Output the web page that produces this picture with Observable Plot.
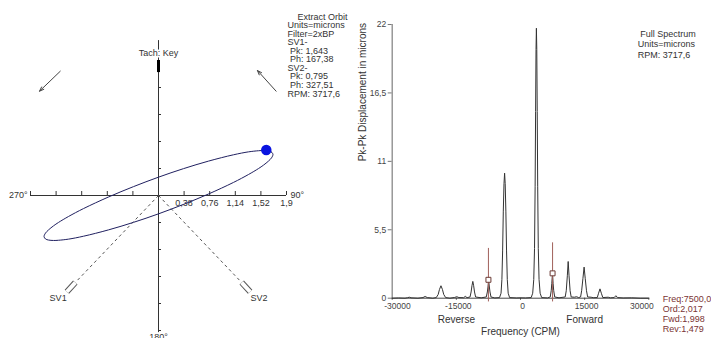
<!DOCTYPE html>
<html>
<head>
<meta charset="utf-8">
<script src="https://cdn.jsdelivr.net/npm/d3@7"></script>
<script src="https://cdn.jsdelivr.net/npm/@observablehq/plot@0.6"></script>
<style>
  html, body { margin: 0; padding: 0; background: #fff; overflow: hidden; }
  #wrap { position: relative; width: 711px; height: 338px; overflow: hidden; }
  #left, #right { position: absolute; top: 0; }
  #left { left: 0; }
  #right { left: 340px; }
</style>
</head>
<body>
<div id="wrap"><div id="left"></div><div id="right"></div></div>
<script>
// ---------- Orbit panel data (microns) ----------
const orbitX = [1.699, 1.677, 1.632, 1.558, 1.484, 1.335, 1.113, 0.742, 0.371, 0, -0.371, -0.742, -1.113, -1.335, -1.484, -1.558, -1.632, -1.677,
                -1.699, -1.677, -1.632, -1.558, -1.484, -1.335, -1.113, -0.742, -0.371, 0, 0.371, 0.742, 1.113, 1.335, 1.484, 1.558, 1.632, 1.677];
const orbitY = [0.578, 0.612, 0.627, 0.633, 0.630, 0.614, 0.573, 0.484, 0.378, 0.258, 0.125, -0.021, -0.184, -0.295, -0.379, -0.427, -0.484, -0.529,
                -0.578, -0.612, -0.627, -0.633, -0.630, -0.614, -0.573, -0.484, -0.378, -0.258, -0.125, 0.021, 0.184, 0.295, 0.379, 0.427, 0.484, 0.529];
const keyphasorDot = [{x: 1.60, y: 0.64}];
const orbitTicks = [-1.9, -1.52, -1.14, -0.76, -0.38, 0.38, 0.76, 1.14, 1.52, 1.9];
const orbitTickLabels = [0.38, 0.76, 1.14, 1.52, 1.9];
const vTicks = [-1.9, -1.52, -1.14, -0.76, -0.38, 0, 0.38, 0.76, 1.14, 1.52];
const probeNames = ["SV1", "SV2"];
const probeDirX = [-1, 1];
const orbitInfo = ["\u00a0\u00a0\u00a0\u00a0Extract Orbit", "Units=microns", "Filter=2xBP", "SV1-", "\u00a0Pk: 1,643", "\u00a0Ph: 167,38",
                   "SV2-", "\u00a0Pk: 0,795", "\u00a0Ph: 327,51", "RPM: 3717,6"];
const rotArrows = [
  {x1: -1.458, y1: 1.749, x2: -1.766, y2: 1.468},
  {x1: 1.746, y1: 1.468, x2: 1.469, y2: 1.759}
];

// ---------- Spectrum panel data ----------
const specFreq = [-30000, -28500, -27000, -26400, -26000, -25600, -24000, -22800, -22300, -21800, -20500,
  -19700, -19250, -18950, -18600, -18250, -17950, -17500, -16500, -15400, -14900, -14400, -13300, -12900, -12500,
  -11800, -11550, -11350, -11150, -10950, -10750, -10500, -9200,
  -8000, -7750, -7600, -7450, -7280, -7130, -6900, -6000,
  -4900, -4550, -4350, -4180, -4020, -3860, -3718, -3580, -3420, -3260, -3090, -2880, -2550, -1000, 0, 1200,
  2500, 2850, 3100, 3280, 3420, 3530, 3630, 3718, 3810, 3910, 4020, 4160, 4340, 4590, 4950, 6300,
  6950, 7180, 7320, 7480, 7620, 7770, 8000, 9000,
  10450, 10700, 10950, 11150, 11350, 11600, 11850, 12600, 13100, 13600,
  14050, 14300, 14600, 14870, 15130, 15430, 15700, 16500, 17000,
  17950, 18250, 18588, 18900, 19250, 20500, 21000, 21900, 22300, 22700, 24000, 26000, 28000, 30000];
const specAmp = [0, 0.02, 0, 0.04, 0.08, 0.03, 0, 0.05, 0.14, 0.05, 0,
  0.05, 0.3, 0.7, 1.0, 0.7, 0.3, 0.05, 0, 0.06, 0.12, 0.05, 0.04, 0.15, 0.04,
  0.1, 0.5, 1.0, 1.35, 1.0, 0.5, 0.1, 0.03,
  0.1, 0.5, 0.9, 1.45, 0.9, 0.5, 0.1, 0.02,
  0.05, 0.4, 1.5, 3.8, 7.0, 9.2, 10.05, 9.2, 7.0, 3.8, 1.5, 0.4, 0.05, 0.02, 0.03, 0.02,
  0.05, 0.4, 1.5, 4.0, 9.0, 15.0, 20.0, 21.7, 20.0, 15.0, 9.0, 4.0, 1.5, 0.4, 0.05, 0.02,
  0.1, 0.6, 1.2, 2.0, 1.2, 0.6, 0.1, 0.03,
  0.1, 0.6, 1.8, 2.95, 1.8, 0.6, 0.1, 0.08, 0.12, 0.05,
  0.1, 0.6, 1.6, 2.5, 1.6, 0.6, 0.1, 0.08, 0.04,
  0.05, 0.4, 0.75, 0.4, 0.05, 0.08, 0.03, 0.05, 0.2, 0.05, 0.02, 0.03, 0, 0];
const xTicks = [-30000, -15000, 0, 15000, 30000];
const yTicks = [0, 5.5, 11, 16.5, 22];
const cursorFreq = [-7500, 7500];
const cursorAmp = [1.479, 1.998];
const cursorTop = [4.0, 4.45];
const spectrumInfo = ["\u00a0Full Spectrum", "Units=microns", "RPM: 3717,6"];
const cursorInfo = ["Freq:7500,0", "Ord:2,017", "Fwd:1,998", "Rev:1,479"];

const FONT = "'Liberation Sans', Arial, sans-serif";
const comma = d => String(d).replace(".", ",");

// ---------- Orbit plot ----------
const orbit = orbitX.map((x, i) => ({x, y: orbitY[i]}));
const probes = probeNames.map((name, i) => ({name, s: probeDirX[i]}));

const left = Plot.plot({
  width: 350, height: 338,
  marginLeft: 30, marginRight: 64, marginTop: 60, marginBottom: 8,
  x: {domain: [-1.9, 1.9], axis: null},
  y: {domain: [-1.9, 1.9], axis: null},
  style: {fontFamily: FONT, fontSize: "9px", color: "#333", background: "transparent", overflow: "visible"},
  marks: [
    // axes
    Plot.ruleY([0], {x1: -1.9, x2: 1.9, stroke: "#333", strokeWidth: 1}),
    Plot.ruleX([0], {y1: -1.93, y2: 2.18, stroke: "#333", strokeWidth: 1}),
    Plot.ruleX(orbitTicks, {x: d => d, y1: 0, y2: 0, insetTop: -4, stroke: "#333"}),
    Plot.ruleY(vTicks, {y: d => d, x1: 0, x2: 0, insetRight: -3, stroke: "#333"}),
    Plot.text(orbitTickLabels, {x: d => d, y: 0, dy: 8, text: comma, fill: "#333", fontSize: 9}),
    Plot.text(["270°"], {x: -1.9, y: 0, dx: -3, textAnchor: "end", fill: "#333", fontSize: 9}),
    Plot.text(["90°"], {x: 1.9, y: 0, dx: 4, textAnchor: "start", fill: "#333", fontSize: 9}),
    Plot.text(["180°"], {x: 0, y: -1.9, dy: 7, fill: "#333", fontSize: 9}),
    // tach key
    Plot.ruleX([0], {y1: 1.73, y2: 1.9, stroke: "#000", strokeWidth: 3}),
    Plot.text(["Tach: Key"], {x: 0, y: 2.0, fill: "#333", fontSize: 9, stroke: "white", strokeWidth: 3, paintOrder: "stroke"}),
    // probe lines
    Plot.link(probes, {x1: 0, y1: 0, x2: d => d.s * 1.22, y2: -1.21, stroke: "#555", strokeDasharray: "3,3", strokeWidth: 1}),
    Plot.link(probes, {x1: d => d.s * 1.235, y1: -1.225, x2: d => d.s * 1.36, y2: -1.355, stroke: "#555", strokeWidth: 6}),
    Plot.link(probes, {x1: d => d.s * 1.235, y1: -1.225, x2: d => d.s * 1.36, y2: -1.355, stroke: "white", strokeWidth: 4, inset: 1}),
    Plot.text(probes, {x: d => d.s * 1.49, y: -1.44, text: "name", fill: "#333", fontSize: 9}),
    // rotation arrows
    Plot.arrow(rotArrows, {x1: "x1", y1: "y1", x2: "x2", y2: "y2", stroke: "#444", strokeWidth: 1, headLength: 7, headAngle: 40}),
    // orbit
    Plot.line(orbit, {x: "x", y: "y", curve: "catmull-rom-closed", stroke: "#202060", strokeWidth: 1}),
    Plot.dot(keyphasorDot, {x: "x", y: "y", r: 4.5, fill: "#0a14e0", stroke: "#0a14e0"}),
    // info block
    Plot.text([orbitInfo.join("\n")], {frameAnchor: "top-left", dx: 257, dy: -47, textAnchor: "start", lineAnchor: "top",
      lineHeight: 0.95, fill: "#333", fontSize: 9})
  ]
});
document.getElementById("left").appendChild(left);

// ---------- Spectrum plot ----------
const spec = specFreq.map((f, i) => ({f, a: specAmp[i]}));
const cursors = cursorFreq.map((f, i) => ({f, a: cursorAmp[i], top: cursorTop[i]}));
const firstTick = xTicks.slice(0, 1);
const midTicks = xTicks.slice(1, -1);
const lastTick = xTicks.slice(-1);

const right = Plot.plot({
  width: 371, height: 338,
  marginLeft: 51.7, marginRight: 62.7, marginTop: 24, marginBottom: 40.3,
  x: {domain: [-30000, 30000], axis: null},
  y: {domain: [0, 22], axis: null},
  style: {fontFamily: FONT, fontSize: "9px", color: "#333", background: "transparent", overflow: "visible"},
  marks: [
    Plot.axisY(yTicks, {anchor: "left", tickSize: 4, tickPadding: 2, tickFormat: comma, stroke: "#777", fill: "#444", fontSize: 8.5}),
    Plot.ruleX([-30000], {y1: 0, y2: 22, stroke: "#888", strokeWidth: 1.3}),
    Plot.ruleY([0], {x1: -30000, x2: 30000, stroke: "#444", strokeWidth: 1}),
    Plot.ruleX(xTicks, {x: d => d, y1: 0, y2: 0, insetBottom: -2, stroke: "#444"}),
    Plot.text(firstTick, {x: d => d, y: 0, dy: 8, dx: -8, text: d => String(d), textAnchor: "start", fill: "#444", fontSize: 8.5}),
    Plot.text(midTicks, {x: d => d, y: 0, dy: 8, dx: 2, text: d => String(d), fill: "#444", fontSize: 8.5}),
    Plot.text(lastTick, {x: d => d, y: 0, dy: 8, dx: -7, text: d => String(d), fill: "#444", fontSize: 8.5}),
    Plot.text(["Reverse"], {x: -15000, y: 0, dy: 22, fill: "#333", fontSize: 10}),
    Plot.text(["Forward"], {x: 15000, y: 0, dy: 22, fill: "#333", fontSize: 10}),
    Plot.text(["Frequency (CPM)"], {x: 0, y: 0, dy: 34, fill: "#333", fontSize: 10}),
    Plot.text(["Pk-Pk Displacement in microns"], {frameAnchor: "left", dx: -29, rotate: -90, fill: "#333", fontSize: 10}),
    // spectrum
    Plot.line(spec, {x: "f", y: "a", stroke: "#333", strokeWidth: 1}),
    // cursors
    Plot.ruleX(cursors, {x: "f", y1: -0.3, y2: "top", stroke: "#a0605a", strokeWidth: 1}),
    Plot.dot(cursors, {x: "f", y: "a", symbol: "square", r: 2.8, fill: "white", stroke: "#6b3a34", strokeWidth: 1}),
    // info blocks
    Plot.text([spectrumInfo.join("\n")], {x: 30000, y: 22, dx: -11, dy: 4.8, textAnchor: "start", lineAnchor: "top",
      lineHeight: 1.17, fill: "#333", fontSize: 9}),
    Plot.text([cursorInfo.join("\n")], {x: 30000, y: 0, dx: 14, dy: -3, textAnchor: "start", lineAnchor: "top",
      lineHeight: 1.1, fill: "#7a3434", fontSize: 9})
  ]
});
document.getElementById("right").appendChild(right);
</script>
</body>
</html>
